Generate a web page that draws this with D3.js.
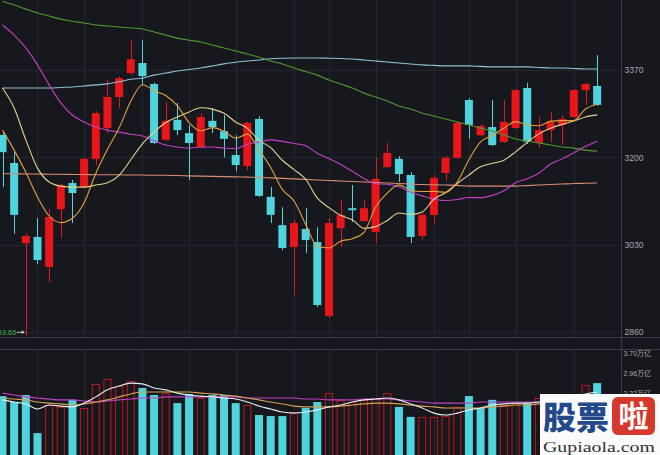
<!DOCTYPE html>
<html><head><meta charset="utf-8">
<script src="https://cdn.jsdelivr.net/npm/d3@7"></script>
<style>html,body{margin:0;padding:0;background:#16181d;overflow:hidden}</style>
</head><body><svg id="c" width="660" height="455"></svg>
<script>
// ---------- data ----------
const days = Array.from({length: 52}, (_, i) => i);
const openP  = [3243.5,3189,3033,3045,2986.5,3099,3150,3142,3197,3257,3317.5,3364,3383.6,3342.7,3234,3273,3247,3220,3271,3251,3204.5,3183,3274.6,3123,3068,3025.5,3060.5,3035,2891,3062,3101,3076,3054.6,3181,3197,3165.6,3047,3088,3169.5,3199,3311.6,3243,3259,3230,3257,3335,3228,3253,3263,3278.5,3331,3339];
const highP  = [3248,3210,3052,3082,3100,3150,3156,3200,3290,3350,3358,3428,3428,3345,3308,3306,3263,3286,3296,3282,3243,3269,3280,3142,3103,3078,3101,3064,3082,3117,3146,3117,3200,3228,3202,3171,3092,3165,3203,3270,3315,3265,3311.6,3311.6,3333,3345,3278,3288,3282,3333,3345,3399];
const lowP   = [3142,3051,2853.65,2992,2957,3043,3072,3140,3185,3247,3296,3360,3341,3226,3232,3243,3156,3218,3247,3200,3173,3175,3123,3072,3019.6,2932,3014,2908.6,2887,3025.5,3074,3074,3033,3179,3152,3033,3040,3072,3154,3197,3236,3241,3222,3228,3255,3226,3218,3230,3224,3276,3302,3300];
const closeP = [3210,3088,3047,3000,3084,3146,3130.5,3197,3286,3317.5,3354,3391,3358,3228,3271,3253,3228,3278.5,3259,3236,3185,3267,3125,3088,3023.5,3072,3039,2912.5,3072,3088,3097,3101,3158,3208.5,3167.5,3045,3088,3160,3199,3267,3263,3261,3224,3269,3331,3230,3253,3269,3274.6,3331,3343,3302];
const prevClose = 3236;

const ma5   = [3253,3214,3171,3123,3085.8,3073,3081.5,3111.5,3168.7,3215.4,3257,3309,3341.3,3329.7,3320.4,3300.2,3267.6,3251.7,3257.9,3250.9,3237.3,3245.1,3214.4,3180.2,3137.7,3115.1,3069.5,3027,3023.8,3036.7,3041.7,3054.1,3103.2,3130.5,3146.4,3136,3133.4,3133.8,3131.9,3151.8,3195.4,3230,3242.8,3256.8,3269.6,3263,3261.4,3270.4,3271.5,3271.5,3294.1,3303.9];
const ma10  = [3335,3296,3234,3179,3152,3144,3142,3142,3146,3150.6,3165,3195.3,3226.4,3249.2,3267.9,3278.6,3288.4,3296.5,3293.8,3285.7,3268.8,3256.4,3233,3219,3194.3,3176.2,3157.3,3120.7,3102,3087.2,3078.4,3061.8,3065.1,3077.2,3091.6,3088.9,3093.8,3118.5,3131.2,3149.1,3165.7,3181.7,3188.3,3194.4,3210.7,3229.2,3245.7,3256.6,3264.2,3270.6,3278.6,3282.7];
const ma20  = [3457.6,3438,3413,3380,3341,3306,3282,3269,3259,3253,3249,3245,3241.5,3232,3224,3220,3218,3220,3220,3218,3216.7,3225.6,3229.6,3234,3231,3227,3222.7,3208,3197.6,3186,3173,3159,3148.7,3147.7,3142.6,3132,3125,3119,3116,3117.8,3121.7,3121.5,3126,3135,3150.7,3158.5,3169,3187,3197,3209,3221.4,3231.5];
const ma60  = [3504,3496.5,3488.5,3481,3475,3469,3465,3461.5,3457.6,3455.7,3453.7,3451.8,3449.8,3444,3438,3432,3428,3424.5,3418.7,3412.8,3407,3401,3395,3387.5,3381.7,3374,3367,3360,3350.5,3342.7,3335,3325,3317.4,3309.7,3300,3294,3286,3280.5,3274.6,3268.8,3263,3257,3251,3243.5,3235.7,3231.8,3228,3224,3220,3218,3214,3212];
const ma120 = [3335,3335,3335,3335,3335,3336,3337,3339,3341,3343,3347,3352,3354,3360,3364,3368,3371,3374,3378,3382,3385,3387.5,3389.5,3392,3393,3393.5,3393.5,3393.5,3393,3392.5,3391.5,3389.5,3387.5,3385.5,3383.5,3381.7,3380,3379,3378,3378,3378,3377,3376,3376,3376,3376,3375,3374,3374,3373,3372,3372];
const ma250 = [3168,3168,3167.5,3167.5,3167,3167,3166.5,3166.5,3166,3166,3166,3165.5,3165.5,3165,3165,3164.5,3164,3163.5,3163,3162.5,3162,3161.5,3161,3160,3159,3158,3157,3156,3155,3154,3153,3152,3151,3150,3149,3148,3147,3146.5,3146,3145.5,3144,3144,3144,3144,3144,3145,3146,3147,3148,3149,3149.5,3150];

// volume in 万亿
const volume = [2.18,1.96,2.22,0.81,1.85,1.78,2.04,1.74,2.63,2.81,2.55,2.74,2.48,2.22,2.29,1.92,2.26,2.11,2.22,2.22,1.92,1.85,1.48,1.44,1.44,1.59,1.74,1.96,2.29,2.04,1.96,2.04,2.11,2.29,1.78,1.41,1.41,1.41,1.44,1.78,2.18,1.74,2.04,1.85,1.92,1.92,2.11,2.18,2.04,2.15,2.59,2.66];
const volMa5  = [2.04,1.96,1.89,1.70,1.85,1.81,1.78,1.92,2.15,2.41,2.55,2.66,2.63,2.48,2.41,2.29,2.22,2.18,2.15,2.11,2.07,1.96,1.81,1.70,1.59,1.55,1.59,1.67,1.78,1.85,1.96,2.04,2.07,2.11,2.04,1.89,1.74,1.55,1.48,1.55,1.67,1.74,1.85,1.89,1.92,1.92,1.96,2.04,2.11,2.18,2.26,2.33];
const volMa10 = [2.11,2.07,2.04,1.96,1.92,1.89,1.85,1.89,1.96,2.04,2.15,2.26,2.33,2.33,2.33,2.33,2.33,2.29,2.26,2.22,2.18,2.11,2.04,1.96,1.89,1.81,1.78,1.78,1.78,1.81,1.85,1.89,1.92,1.92,1.89,1.85,1.81,1.78,1.74,1.74,1.74,1.74,1.78,1.81,1.85,1.85,1.89,1.92,1.96,2.00,2.04,2.07];
const volMa20 = [2.29,2.22,2.15,2.11,2.07,2.04,2.04,2.00,1.96,2.00,2.04,2.07,2.11,2.11,2.15,2.15,2.15,2.15,2.15,2.15,2.15,2.11,2.11,2.11,2.11,2.11,2.07,2.07,2.04,2.04,2.04,2.07,2.07,2.07,2.04,2.00,1.96,1.92,1.92,1.92,1.92,1.96,1.96,1.96,1.96,1.96,1.96,2.00,2.00,2.04,2.04,2.04];

const priceTicks = [3370, 3200, 3030, 2860];
const volTicks = [3.70, 2.96, 2.22];
const gridDays = [3,7,12,16,20,25,28,32,37,40,44,49];

// ---------- layout ----------
const W = 660, H = 455;
const plotRight = 621.5, mainBottom = 337.5, volTop = 349.5;
const C = {bg:"#16181d", grid:"#24272e", border:"#3b3e46", up:"#e8161b", down:"#4fd3dc",
  text:"#a9a9ab", ma5:"#e3a03e", ma10:"#e6d38c", ma20:"#c440c4", ma60:"#4f9a30",
  ma120:"#8ec2d2", ma250:"#d88d74", vMa5:"#e4f0f0", vMa10:"#d6a052", vMa20:"#c440c4"};

const svg = d3.select("#c");
svg.append("rect").attr("width", W).attr("height", H).attr("fill", C.bg);

const defs = svg.append("defs");
defs.append("clipPath").attr("id","clipMain").append("rect").attr("x",0).attr("y",0).attr("width",plotRight).attr("height",mainBottom);
defs.append("clipPath").attr("id","clipVol").append("rect").attr("x",0).attr("y",volTop).attr("width",plotRight).attr("height",H-volTop);

const x = d3.scaleBand().domain(days).range([-3.33, 603.0]).paddingInner(0.314).paddingOuter(0.157);
const cx = i => x(i) + x.bandwidth() / 2;
const y = d3.scaleLinear().domain([2860, 3370]).range([332, 70]);
const vy = d3.scaleLinear().domain([0, 3.70]).range([455, 355]);

// ---------- grid ----------
const grid = svg.append("g").attr("stroke", C.grid).attr("stroke-width", 1);
grid.selectAll("line.h").data(priceTicks).join("line").attr("class","h")
  .attr("x1", 0).attr("x2", plotRight)
  .attr("y1", d => Math.round(y(d)) + 0.5).attr("y2", d => Math.round(y(d)) + 0.5);
grid.selectAll("line.v").data(gridDays).join("line").attr("class","v")
  .attr("x1", d => Math.round(cx(d)) + 0.5).attr("x2", d => Math.round(cx(d)) + 0.5)
  .attr("y1", 0).attr("y2", mainBottom);
grid.selectAll("line.vv").data(gridDays).join("line").attr("class","vv")
  .attr("x1", d => Math.round(cx(d)) + 0.5).attr("x2", d => Math.round(cx(d)) + 0.5)
  .attr("y1", volTop).attr("y2", H);

// borders
const bd = svg.append("g").attr("stroke", C.border).attr("stroke-width", 1);
bd.append("line").attr("x1", plotRight).attr("x2", plotRight).attr("y1", 0).attr("y2", H);
bd.append("line").attr("x1", 0).attr("x2", W).attr("y1", mainBottom).attr("y2", mainBottom);
bd.append("line").attr("x1", 0).attr("x2", W).attr("y1", volTop).attr("y2", volTop);

// ---------- candles ----------
const main = svg.append("g").attr("clip-path", "url(#clipMain)");
const cdata = days.map(i => ({i, o: openP[i], h: highP[i], l: lowP[i], c: closeP[i]}));
const col = d => d.c >= d.o ? C.up : C.down;
main.selectAll("line.wick").data(cdata).join("line").attr("class","wick")
  .attr("x1", d => Math.round(cx(d.i)) + 0.5).attr("x2", d => Math.round(cx(d.i)) + 0.5)
  .attr("y1", d => y(d.h)).attr("y2", d => y(d.l))
  .attr("stroke", col).attr("stroke-width", 1);
main.selectAll("rect.body").data(cdata).join("rect").attr("class","body")
  .attr("x", d => x(d.i)).attr("width", x.bandwidth())
  .attr("y", d => y(Math.max(d.o, d.c)))
  .attr("height", d => Math.max(1.5, Math.abs(y(d.o) - y(d.c))))
  .attr("fill", col);

// ---------- moving averages ----------
const line = arr => d3.line().x((d, i) => cx(i)).y(d => y(d)).curve(d3.curveMonotoneX)(arr);
[[ma250, C.ma250], [ma120, C.ma120], [ma60, C.ma60], [ma20, C.ma20], [ma10, C.ma10], [ma5, C.ma5]]
  .forEach(([arr, c]) => main.append("path").attr("d", line(arr)).attr("fill", "none").attr("stroke", c).attr("stroke-width", 1.1));

// low marker
const lowIdx = d3.minIndex(lowP);
const ly = y(lowP[lowIdx]) - 3;
const lx = cx(lowIdx);
main.append("line").attr("x1", lx - 9).attr("x2", lx - 1.5).attr("y1", ly).attr("y2", ly).attr("stroke", "#c8c8c8").attr("stroke-width", 1);
main.append("path").attr("d", `M${lx-1},${ly} l-3,-2 v4 z`).attr("fill", "#c8c8c8");
main.append("text").attr("x", lx - 9.5).attr("y", ly + 2.5).attr("text-anchor", "end")
  .attr("font-family", "Liberation Sans, Arial, sans-serif").attr("font-size", 7.5).attr("fill", "#44b04e")
  .text(d3.format(".2f")(lowP[lowIdx]));

// price axis
svg.append("g").attr("transform", `translate(${plotRight},0)`)
  .call(d3.axisRight(y).tickValues(priceTicks).tickSize(0).tickPadding(3).tickFormat(d3.format("d")))
  .call(g => g.select(".domain").remove())
  .selectAll("text").attr("fill", C.text).attr("font-size", 8.5).attr("font-family", "Liberation Sans, Arial, sans-serif");

// ---------- volume ----------
const vol = svg.append("g").attr("clip-path", "url(#clipVol)");
const vdata = days.map(i => ({i, v: volume[i], up: closeP[i] >= (i ? closeP[i-1] : prevClose)}));
vol.selectAll("rect.vdown").data(vdata.filter(d => !d.up)).join("rect").attr("class","vdown")
  .attr("x", d => x(d.i)).attr("width", x.bandwidth())
  .attr("y", d => vy(d.v)).attr("height", d => vy(0) - vy(d.v)).attr("fill", C.down);
vol.selectAll("rect.vup").data(vdata.filter(d => d.up)).join("rect").attr("class","vup")
  .attr("x", d => x(d.i) + 0.5).attr("width", x.bandwidth() - 1)
  .attr("y", d => vy(d.v) + 0.5).attr("height", d => vy(0) - vy(d.v) + 2)
  .attr("fill", "none").attr("stroke", "#c1161b").attr("stroke-width", 1);
const vline = arr => d3.line().x((d, i) => cx(i)).y(d => vy(d)).curve(d3.curveMonotoneX)(arr);
[[volMa20, C.vMa20], [volMa10, C.vMa10], [volMa5, C.vMa5]]
  .forEach(([arr, c]) => vol.append("path").attr("d", vline(arr)).attr("fill", "none").attr("stroke", c).attr("stroke-width", 1.1));

svg.append("g").attr("transform", `translate(${plotRight},-2)`)
  .call(d3.axisRight(vy).tickValues(volTicks).tickSize(0).tickPadding(2).tickFormat(d => d.toFixed(2) + "万亿"))
  .call(g => g.select(".domain").remove())
  .selectAll("text").attr("fill", C.text).attr("font-size", 7).attr("font-family", "Liberation Sans, 'Noto Sans CJK SC', sans-serif");

// ---------- watermark ----------
const wm = svg.append("g");
wm.append("rect").attr("x", 540).attr("y", 394).attr("width", 120).attr("height", 61).attr("fill", "#fbfbfb");
wm.append("text").attr("x", 543).attr("y", 429).attr("font-family", "'Noto Sans CJK SC', sans-serif")
  .attr("font-weight", 900).attr("font-size", 32).attr("fill", "#24498a")
  .attr("textLength", 66).attr("lengthAdjust", "spacingAndGlyphs").text("股票");
wm.append("rect").attr("x", 612).attr("y", 397).attr("width", 43).attr("height", 38).attr("rx", 6).attr("fill", "#d6392c");
wm.append("text").attr("x", 633.5).attr("y", 427).attr("text-anchor", "middle").attr("font-family", "'Noto Sans CJK SC', sans-serif")
  .attr("font-weight", 700).attr("font-size", 30).attr("fill", "#ffffff").text("啦");
wm.append("text").attr("x", 543).attr("y", 452).attr("font-family", "'Liberation Serif', 'DejaVu Serif', serif")
  .attr("font-size", 15).attr("fill", "#2f3236").attr("textLength", 112).attr("lengthAdjust", "spacingAndGlyphs").text("Gupiaola.com");
</script>
</body></html>
